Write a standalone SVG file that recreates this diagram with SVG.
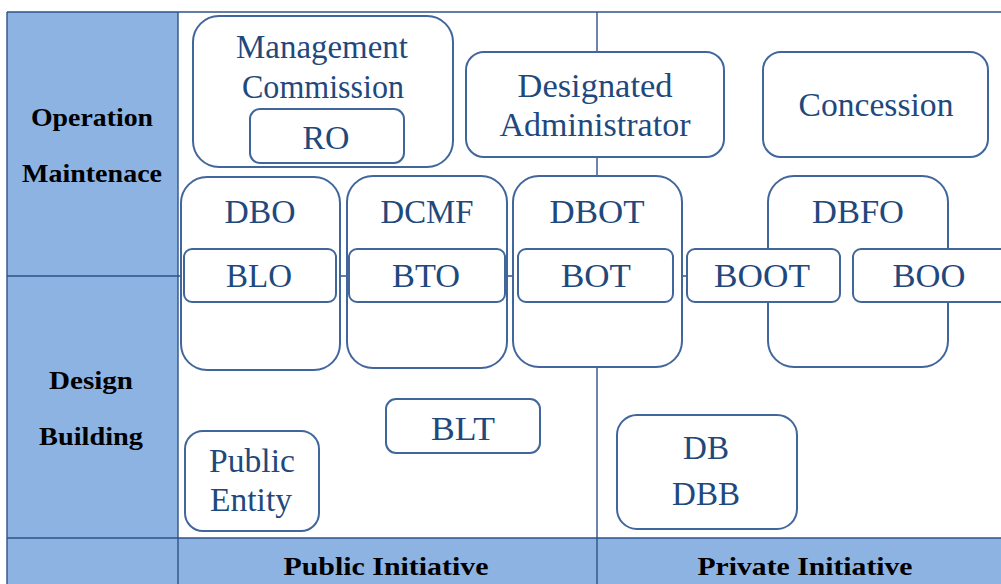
<svg xmlns="http://www.w3.org/2000/svg" width="1001" height="584" viewBox="0 0 1001 584">
  <style>
    .band { fill: #8DB3E2; }
    .grid { stroke: #2F5289; stroke-width: 1.4; fill: none; }
    .box { fill: #FFFFFF; stroke: #41669B; stroke-width: 2; }
    .lbl { font-family: "Liberation Serif", "DejaVu Serif", serif; font-size: 34px; fill: #1F497D; text-anchor: middle; }
    .hdr { font-family: "Liberation Serif", "DejaVu Serif", serif; font-weight: bold; font-size: 26px; fill: #000000; text-anchor: middle; }
  </style>

  <!-- table background and grid -->
  <rect x="0" y="0" width="1001" height="584" fill="#FFFFFF"/>
  <rect class="band" x="7" y="12" width="171" height="572"/>
  <rect class="band" x="178" y="538" width="823" height="46"/>
  <g id="connectors">
    <line class="grid" x1="7" y1="12" x2="1001" y2="12"/>
    <line class="grid" x1="7" y1="12" x2="7" y2="584"/>
    <line class="grid" x1="178" y1="12" x2="178" y2="584"/>
    <line class="grid" x1="597" y1="12" x2="597" y2="584"/>
    <line class="grid" x1="7" y1="276" x2="1001" y2="276"/>
    <line class="grid" x1="7" y1="538" x2="1001" y2="538"/>
  </g>

  <!-- axis labels -->
  <g id="axis-labels">
    <text class="hdr" x="92" y="126" textLength="122" lengthAdjust="spacingAndGlyphs">Operation</text>
    <text class="hdr" x="92" y="182" textLength="140" lengthAdjust="spacingAndGlyphs">Maintenace</text>
    <text class="hdr" x="91" y="389" textLength="84" lengthAdjust="spacingAndGlyphs">Design</text>
    <text class="hdr" x="91" y="445" textLength="104" lengthAdjust="spacingAndGlyphs">Building</text>
    <text class="hdr" x="386" y="575" textLength="205" lengthAdjust="spacingAndGlyphs">Public Initiative</text>
    <text class="hdr" x="805" y="575" textLength="215" lengthAdjust="spacingAndGlyphs">Private Initiative</text>
  </g>

  <!-- operation / maintenance level -->
  <g id="management-commission">
    <rect class="box" x="193" y="16" width="260" height="151" rx="26"/>
    <text class="lbl" x="322" y="58" textLength="172" lengthAdjust="spacingAndGlyphs">Management</text>
    <text class="lbl" x="323" y="98" textLength="162" lengthAdjust="spacingAndGlyphs">Commission</text>
  </g>
  <g id="ro">
    <rect class="box" x="250" y="109" width="154" height="54" rx="10"/>
    <text class="lbl" x="326" y="149" textLength="47" lengthAdjust="spacingAndGlyphs">RO</text>
  </g>
  <g id="designated-administrator">
    <rect class="box" x="466" y="52" width="258" height="105" rx="18"/>
    <text class="lbl" x="595" y="97" textLength="155" lengthAdjust="spacingAndGlyphs">Designated</text>
    <text class="lbl" x="595" y="136" textLength="191" lengthAdjust="spacingAndGlyphs">Administrator</text>
  </g>
  <g id="concession">
    <rect class="box" x="763" y="52" width="225" height="105" rx="18"/>
    <text class="lbl" x="876" y="116" textLength="155" lengthAdjust="spacingAndGlyphs">Concession</text>
  </g>

  <!-- combined design-build-operate contracts -->
  <g id="dbo">
    <rect class="box" x="181" y="177" width="159" height="193" rx="26"/>
    <text class="lbl" x="260" y="223" textLength="71" lengthAdjust="spacingAndGlyphs">DBO</text>
  </g>
  <g id="dcmf">
    <rect class="box" x="347" y="176" width="160" height="192" rx="26"/>
    <text class="lbl" x="427" y="223" textLength="93" lengthAdjust="spacingAndGlyphs">DCMF</text>
  </g>
  <g id="dbot">
    <rect class="box" x="513" y="176" width="169" height="191" rx="26"/>
    <text class="lbl" x="597" y="223" textLength="95" lengthAdjust="spacingAndGlyphs">DBOT</text>
  </g>
  <g id="dbfo">
    <rect class="box" x="768" y="176" width="180" height="191" rx="26"/>
    <text class="lbl" x="858" y="223" textLength="92" lengthAdjust="spacingAndGlyphs">DBFO</text>
  </g>
  <g id="blo">
    <rect class="box" x="184" y="249" width="152" height="53" rx="8"/>
    <text class="lbl" x="259" y="287" textLength="66" lengthAdjust="spacingAndGlyphs">BLO</text>
  </g>
  <g id="bto">
    <rect class="box" x="349" y="249" width="156" height="53" rx="8"/>
    <text class="lbl" x="426" y="287" textLength="68" lengthAdjust="spacingAndGlyphs">BTO</text>
  </g>
  <g id="bot">
    <rect class="box" x="518" y="249" width="155" height="53" rx="8"/>
    <text class="lbl" x="596" y="287" textLength="70" lengthAdjust="spacingAndGlyphs">BOT</text>
  </g>
  <g id="boot">
    <rect class="box" x="687" y="249" width="153" height="53" rx="8"/>
    <text class="lbl" x="762" y="287" textLength="96" lengthAdjust="spacingAndGlyphs">BOOT</text>
  </g>
  <g id="boo">
    <rect class="box" x="853" y="249" width="170" height="53" rx="8"/>
    <text class="lbl" x="929" y="287" textLength="73" lengthAdjust="spacingAndGlyphs">BOO</text>
  </g>

  <!-- design / building level -->
  <g id="blt">
    <rect class="box" x="386" y="399" width="154" height="54" rx="10"/>
    <text class="lbl" x="463" y="440" textLength="64" lengthAdjust="spacingAndGlyphs">BLT</text>
  </g>
  <g id="public-entity">
    <rect class="box" x="185" y="431" width="134" height="100" rx="18"/>
    <text class="lbl" x="252" y="472" textLength="86" lengthAdjust="spacingAndGlyphs">Public</text>
    <text class="lbl" x="251" y="511" textLength="82" lengthAdjust="spacingAndGlyphs">Entity</text>
  </g>
  <g id="db-dbb">
    <rect class="box" x="617" y="415" width="180" height="114" rx="20"/>
    <text class="lbl" x="706" y="459" textLength="46" lengthAdjust="spacingAndGlyphs">DB</text>
    <text class="lbl" x="706" y="505" textLength="68" lengthAdjust="spacingAndGlyphs">DBB</text>
  </g>
</svg>
